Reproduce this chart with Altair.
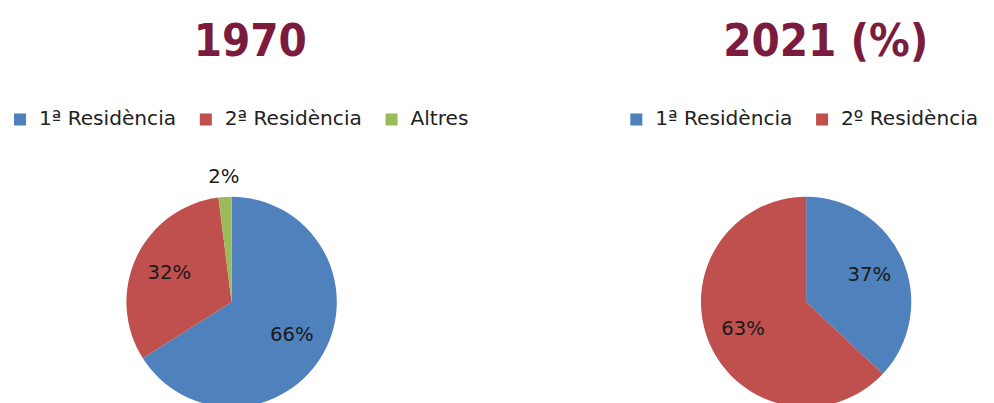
import altair as alt
import pandas as pd

# ---- data ----
cats_1970 = ["1ª Residència", "2ª Residència", "Altres"]
vals_1970 = [66, 32, 2]
cats_2021 = ["1ª Residència", "2º Residència"]
vals_2021 = [37, 63]
colors_1970 = ["#4F81BD", "#C0504D", "#9BBB59"]
colors_2021 = ["#4F81BD", "#C0504D"]

TITLE_FONT = "Liberation Sans Narrow, DejaVu Sans Condensed, Roboto, sans-serif"
LABEL_FONT = "DejaVu Sans"
MAROON = "#7B1C3E"

PIE_R = 107
H = 460


def pie(title, cats, vals, colors, w, legend_x, dx):
    df = pd.DataFrame({
        "cat": cats,
        "value": vals,
        "idx": list(range(len(cats))),
        "label": [f"{v}%" for v in vals],
    })
    base = alt.Chart(df).encode(
        theta=alt.Theta("value:Q", stack=True),
        order=alt.Order("idx:Q"),
    )
    arc = base.mark_arc(radius=PIE_R).encode(
        color=alt.Color(
            "cat:N",
            scale=alt.Scale(domain=cats, range=colors),
            legend=alt.Legend(
                orient="none", legendX=legend_x, legendY=34,
                direction="horizontal", title=None,
                symbolType="square", symbolSize=150, symbolStrokeWidth=0,
                labelFont=LABEL_FONT, labelFontSize=20.5, labelColor="#222222",
                columnPadding=19, labelOffset=9,
            ),
        )
    )
    inner = base.mark_text(radius=70, font=LABEL_FONT, fontSize=20, color="#1a1a1a").encode(
        text=alt.condition("datum.value >= 5", alt.Text("label:N"), alt.value(""))
    )
    outer = base.mark_text(radius=127, font=LABEL_FONT, fontSize=20, color="#1a1a1a").encode(
        text=alt.condition("datum.value < 5", alt.Text("label:N"), alt.value(""))
    )
    return alt.layer(arc, inner, outer).properties(
        width=w, height=H,
        title=alt.TitleParams(
            text=title, font=TITLE_FONT, fontSize=46, fontWeight="bold",
            color=MAROON, anchor="middle", dx=dx, offset=10.5,
        ),
    )


left = pie("1970", cats_1970, vals_1970, colors_1970, 455, 2, 19)
right = pie("2021 (%)", cats_2021, vals_2021, colors_2021, 366, 0, 20)

chart = (
    alt.hconcat(left, right, spacing=160)
    .resolve_scale(color="independent")
    .properties(padding={"left": 0, "top": 6.5, "right": 0, "bottom": 0}, background="white")
    .configure_view(stroke=None)
)

chart.save("out.html", embed_options={"renderer": "svg", "actions": False})
